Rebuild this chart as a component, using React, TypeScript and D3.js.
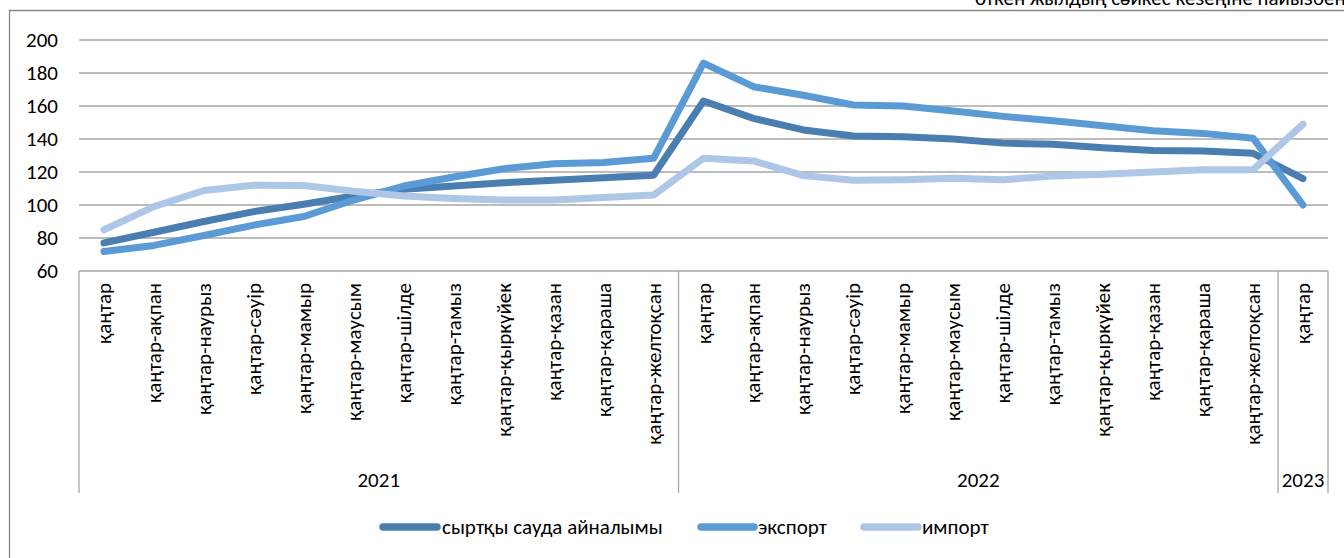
import React from "react";
import * as d3 from "d3";

const months = [
  "қаңтар", "қаңтар-ақпан", "қаңтар-наурыз", "қаңтар-сәуір", "қаңтар-мамыр", "қаңтар-маусым",
  "қаңтар-шілде", "қаңтар-тамыз", "қаңтар-қыркүйек", "қаңтар-қазан", "қаңтар-қараша", "қаңтар-желтоқсан",
];
const categories = [...months, ...months, "қаңтар"];
const years = [
  { label: "2021", from: 0, to: 12 },
  { label: "2022", from: 12, to: 24 },
  { label: "2023", from: 24, to: 25 },
];
const turnover = [77, 83.5, 90, 96, 100.5, 105.5, 109.5, 111.5, 113.5, 115, 116.5, 118,
  163, 152.5, 145.5, 141.8, 141.4, 140, 137.5, 136.8, 134.7, 133, 132.8, 131.3, 116];
const exportVals = [71.8, 75.5, 81.5, 87.8, 93, 103, 111.5, 117, 122, 125, 125.8, 128.3,
  186, 171.7, 166.5, 160.6, 160, 157, 153.7, 151, 148, 145, 143.4, 140.5, 100];
const importVals = [85, 99, 108.8, 112, 111.8, 108.3, 105.5, 104, 103, 103, 104.5, 106,
  128.3, 126.7, 117.8, 115, 115.3, 116.2, 115.3, 117.6, 118.7, 120, 121.3, 121.3, 149];
const yTicks = [60, 80, 100, 120, 140, 160, 180, 200];
const seriesNames = ["сыртқы сауда айналымы", "экспорт", "импорт"];
const colors = ["#4a7eb0", "#5b9bd5", "#aec7e6"];
const titleText = "өткен жылдың сәйкес кезеңіне пайызбен";

const W = 1344, H = 558;
const left = 79, right = 1328, top = 40, bottom = 271;
const font = "Carlito, Calibri, 'Liberation Sans', Arial, sans-serif";
const fs = 21;

export default function App() {
  const x = d3.scaleBand<number>().domain(d3.range(categories.length)).range([left, right]);
  const y = d3.scaleLinear().domain([60, 200]).range([bottom, top]);
  const line = d3.line<number>()
    .x((_, i) => (x(i) as number) + x.bandwidth() / 2)
    .y((d) => y(d));
  const data = [turnover, exportVals, importVals];
  const legendItems = [
    { x1: 383, x2: 437, tx: 442 },
    { x1: 701, x2: 754, tx: 758 },
    { x1: 864, x2: 918, tx: 922 },
  ];
  return (
    <svg width={W} height={H} style={{ position: "absolute", left: 0, top: 0, display: "block" }} fontFamily={font}>
      <rect x={0} y={0} width={W} height={H} fill="#fff" />
      <text x={975} y={5} fontSize={fs} fill="#000">{titleText}</text>
      <line x1={9} x2={W} y1={10.5} y2={10.5} stroke="#878787" strokeWidth={1.3} />
      <line x1={9.5} x2={9.5} y1={10} y2={H} stroke="#878787" strokeWidth={1.3} />
      {yTicks.map((t) => (
        <g key={t}>
          <line x1={left} x2={right} y1={y(t)} y2={y(t)} stroke="#a6a6a6" strokeWidth={1.3} />
          <text x={58} y={y(t)} textAnchor="end" dominantBaseline="central" fontSize={fs} fill="#000">{t}</text>
        </g>
      ))}
      {[left, ...years.map((yr) => x.range()[0] + yr.to * x.step())].map((xx, i) => (
        <line key={i} x1={xx} x2={xx} y1={bottom} y2={493} stroke="#a6a6a6" strokeWidth={1.3} />
      ))}
      {categories.map((c, i) => {
        const cx = (x(i) as number) + x.bandwidth() / 2;
        return (
          <text key={i} transform={`translate(${cx},283) rotate(-90)`} textAnchor="end" dominantBaseline="central" fontSize={fs} fill="#000">{c}</text>
        );
      })}
      {years.map((yr) => {
        const cx = left + ((yr.from + yr.to) / 2) * x.step();
        return (
          <text key={yr.label} x={cx} y={480} textAnchor="middle" dominantBaseline="central" fontSize={fs} fill="#000">{yr.label}</text>
        );
      })}
      {data.map((d, i) => (
        <path key={i} d={line(d) || ""} fill="none" stroke={colors[i]} strokeWidth={7} strokeLinecap="round" strokeLinejoin="round" />
      ))}
      {legendItems.map((it, i) => (
        <g key={i}>
          <line x1={it.x1} x2={it.x2} y1={527} y2={527} stroke={colors[i]} strokeWidth={7.5} strokeLinecap="round" />
          <text x={it.tx} y={527} dominantBaseline="central" fontSize={fs} fill="#000">{seriesNames[i]}</text>
        </g>
      ))}
    </svg>
  );
}
